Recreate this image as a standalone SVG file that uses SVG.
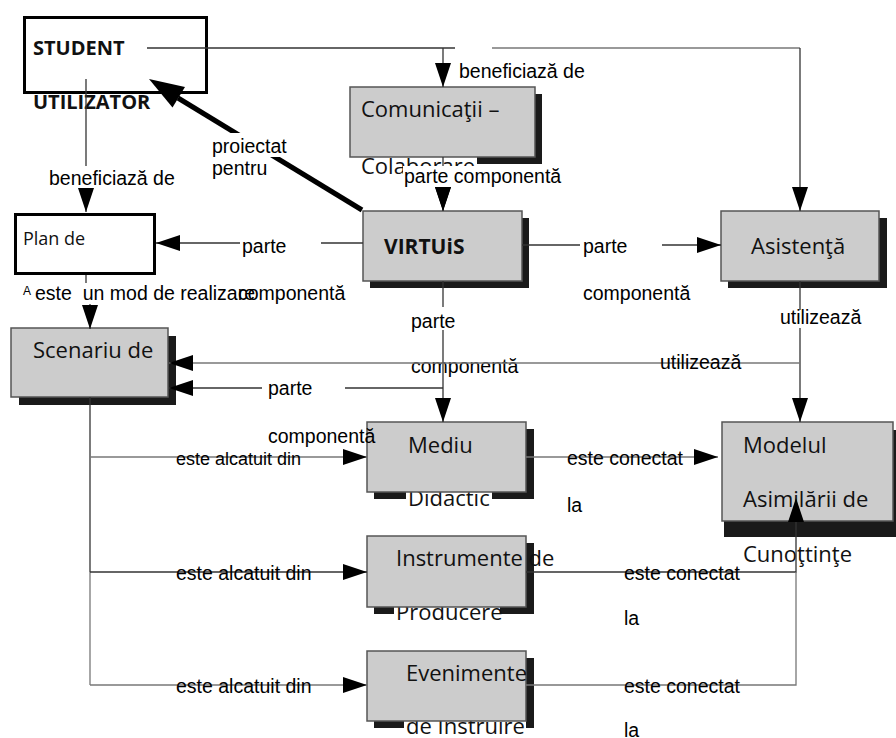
<svg xmlns="http://www.w3.org/2000/svg" width="896" height="738" viewBox="0 0 896 738">
<defs>
<style>
.lbl{font-family:"Liberation Sans",Arial,sans-serif;font-size:19.5px;fill:#000}
.bt{font-family:"Open Sans","Noto Sans",sans-serif;font-size:22px;fill:#111}
.bb{font-family:"Open Sans","Noto Sans",sans-serif;font-size:20px;font-weight:bold;fill:#111}
.box{fill:#cccccc;stroke:#555;stroke-width:1.5}
.sh{fill:#1a1a1a}
.wbox{fill:#fff;stroke:#000;stroke-width:3}
.ln{fill:none;stroke:#333;stroke-width:1.3}
.lg{fill:none;stroke:#777;stroke-width:1.3}
.bg{fill:#fff}
</style>
<marker id="ah" markerUnits="userSpaceOnUse" markerWidth="24" markerHeight="16" refX="24" refY="8" orient="auto">
<path d="M0,0 L24,8 L0,16 z" fill="#000"/>
</marker>
</defs>
<rect width="896" height="738" fill="#fff"/>

<g id="student">
<text class="bb" x="33" y="109">UTILIZATOR</text>
<rect class="wbox" x="24.5" y="17.5" width="182" height="75"/>
<text class="bb" x="33" y="55">STUDENT</text>
</g>

<g id="plan">
<rect class="wbox" x="15.5" y="214.5" width="139" height="59"/>
<text class="bt" x="23" y="245" style="font-size:18px">Plan de</text>
</g>

<g id="comunicatii">
<rect class="sh" x="357" y="94" width="185" height="70"/>
<rect class="bg" x="356" y="157" width="121" height="20"/>
<text class="bt" x="361" y="174">Colaborare</text>
<rect class="box" x="350" y="87" width="185" height="70"/>
<text class="bt" x="361" y="117">Comunicaţii –</text>
</g>

<g id="virtuis">
<rect class="sh" x="370" y="218" width="159" height="70"/>
<rect class="box" x="363" y="211" width="159" height="70"/>
<text class="bb" x="384" y="254" style="font-size:21px">VIRTUiS</text>
</g>

<g id="asistenta">
<rect class="sh" x="728" y="218" width="159" height="70"/>
<rect class="box" x="721" y="211" width="158" height="70"/>
<text class="bt" x="751" y="254">Asistenţă</text>
</g>

<g id="scenariu">
<rect class="sh" x="19" y="336" width="157" height="69"/>
<rect class="box" x="11" y="328" width="157" height="69"/>
<text class="bt" x="33" y="358">Scenariu de</text>
</g>

<g id="mediu">
<rect class="sh" x="374" y="429" width="160" height="70"/>
<rect class="bg" x="406" y="492" width="86" height="20"/>
<text class="bt" x="408" y="506">Didactic</text>
<rect class="box" x="367" y="422" width="159" height="70"/>
<text class="bt" x="408" y="453">Mediu</text>
</g>

<g id="instrumente">
<rect class="sh" x="374" y="543" width="160" height="71"/>
<rect class="bg" x="394" y="607" width="106" height="20"/>
<text class="bt" x="396" y="620">Producere</text>
<rect class="box" x="367" y="536" width="159" height="71"/>
<text class="bt" x="396" y="566">Instrumente de</text>
</g>

<g id="evenimente">
<rect class="sh" x="374" y="658" width="160" height="70"/>
<rect class="bg" x="404" y="721" width="122" height="17"/>
<text class="bt" x="406" y="734">de Instruire</text>
<rect class="box" x="367" y="651" width="159" height="70"/>
<text class="bt" x="406" y="681">Evenimente</text>
</g>

<g id="modelul">
<rect class="sh" x="724" y="430" width="172" height="107"/>
<rect class="box" x="722" y="422" width="171" height="99"/>
<text class="bt" x="743" y="453">Modelul</text>
<text class="bt" x="743" y="507">Asimilării de</text>
<text class="bt" x="743" y="562">Cunoţtinţe</text>
</g>

<g id="connectors">
<path class="ln" d="M147,48 H455"/>
<path class="lg" d="M492,48 H800"/>
<path class="ln" d="M443,48 V87" marker-end="url(#ah)"/>
<text class="lbl" x="459" y="78">beneficiază de</text>
<path class="ln" d="M800,48 V211" marker-end="url(#ah)"/>

<path class="ln" d="M86,79 V166"/>
<text class="lbl" x="49" y="185">beneficiază de</text>
<path class="ln" d="M86,188 V212" marker-end="url(#ah)"/>

<path d="M362,210 L178,98" stroke="#000" stroke-width="5" fill="none"/>
<polygon points="149,79 185,87 172.5,107.5" fill="#000"/>
<rect class="bg" x="210" y="133" width="82" height="24"/>
<text class="lbl" x="212" y="153">proiectat</text>
<text class="lbl" x="212" y="175">pentru</text>

<path class="ln" d="M443,157 V211" marker-end="url(#ah)"/>
<rect class="bg" x="403" y="166" width="166" height="21"/>
<text class="lbl" x="404" y="183">parte componentă</text>
<polygon points="435,187 451,187 443,211" fill="#000"/>

<path class="ln" d="M363,243 H321"/>
<path class="ln" d="M240,243 H156" marker-end="url(#ah)"/>
<text class="lbl" x="242" y="253">parte</text>

<path class="ln" d="M522,245 H580"/>
<path class="ln" d="M662,245 H721" marker-end="url(#ah)"/>
<text class="lbl" x="583" y="253">parte</text>
<text class="lbl" x="583" y="300">componentă</text>

<path class="ln" d="M86,275 V283"/>
<text class="lbl" x="23" y="295" style="font-size:12px">A</text>
<text class="lbl" x="35" y="300">este&#160; un mod de realizare</text>
<text class="lbl" x="238" y="300">componentă</text>
<path class="ln" d="M90,304 V329" marker-end="url(#ah)"/>

<path class="ln" d="M443,281 V307"/>
<path class="ln" d="M443,330 V422" marker-end="url(#ah)"/>
<text class="lbl" x="411" y="328">parte</text>
<text class="lbl" x="411" y="373">componentă</text>

<path class="ln" d="M800,281 V310"/>
<path class="ln" d="M800,328 V422" marker-end="url(#ah)"/>
<text class="lbl" x="780" y="324">utilizează</text>

<path class="lg" d="M800,363 H169" marker-end="url(#ah)"/>
<text class="lbl" x="660" y="369">utilizează</text>

<path class="ln" d="M443,388 H345"/>
<path class="ln" d="M262,388 H169" marker-end="url(#ah)"/>
<text class="lbl" x="268" y="395">parte</text>
<text class="lbl" x="268" y="443">componentă</text>

<path class="ln" d="M90,397 V572"/>
<path class="lg" d="M90,572 V685"/>
<path class="lg" d="M90,457 H367" marker-end="url(#ah)"/>
<path class="ln" d="M90,572 H367" marker-end="url(#ah)"/>
<path class="lg" d="M90,685 H367" marker-end="url(#ah)"/>
<text class="lbl" x="176" y="465" style="font-size:18px">este alcatuit din</text>
<text class="lbl" x="176" y="580">este alcatuit din</text>
<text class="lbl" x="176" y="693">este alcatuit din</text>

<path class="lg" d="M526,457 H718" marker-end="url(#ah)"/>
<text class="lbl" x="567" y="465">este conectat</text>
<text class="lbl" x="567" y="512">la</text>
<path class="ln" d="M526,572 H796 V498" marker-end="url(#ah)"/>
<text class="lbl" x="624" y="580">este conectat</text>
<text class="lbl" x="624" y="625">la</text>
<path class="lg" d="M526,685 H796 V572"/>
<text class="lbl" x="624" y="693">este conectat</text>
<text class="lbl" x="624" y="737">la</text>
</g>
</svg>
